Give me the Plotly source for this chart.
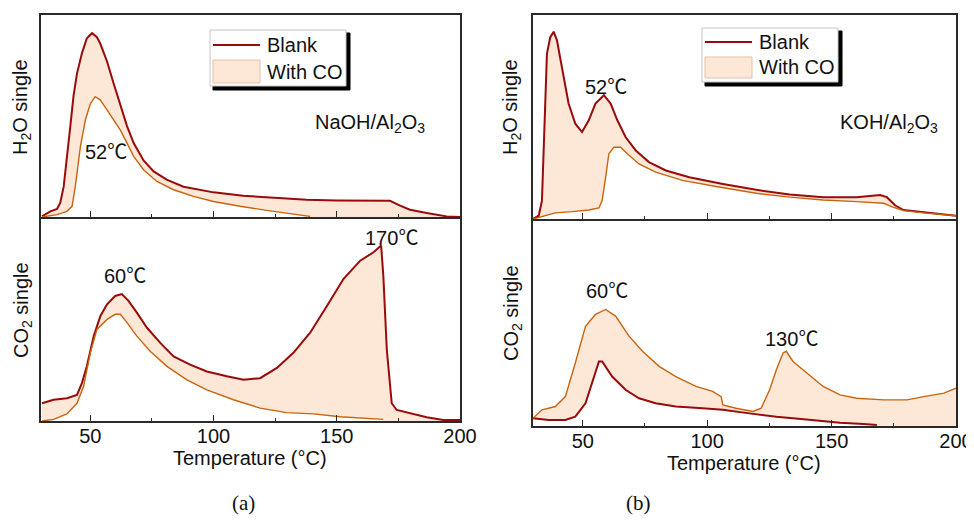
import plotly.graph_objects as go

# ---------------- data (signal in arbitrary units, 0-100 of each panel) ----------------
# Panel (a) NaOH/Al2O3, H2O signal
a_h2o_blank_T = [30.4, 33.8, 36.5, 37.8, 39.2, 40.5, 41.9, 43.2, 44.6, 46.6, 48.6, 50.7, 52.7, 54.0,
                 56.8, 59.5, 62.2, 64.9, 67.6, 71.6, 75.7, 81.0, 87.8, 100.0, 112.0, 125.7, 137.8,
                 150.0, 162.0, 171.6, 175.7, 179.7, 186.5, 194.6, 200.0]
a_h2o_blank_y = [0.3, 2.8, 4.0, 7.0, 15.0, 28.0, 45.0, 60.0, 71.0, 81.0, 88.5, 91.0, 89.0, 86.0,
                 77.0, 66.0, 55.0, 45.0, 36.6, 28.0, 22.6, 18.5, 15.0, 12.2, 10.5, 9.4, 8.6,
                 8.2, 7.9, 8.0, 5.6, 3.6, 2.0, 0.3, 0.0]
a_h2o_co_T = [30.4, 36.5, 40.5, 42.6, 43.9, 46.0, 48.0, 50.0, 52.0, 54.0, 56.8, 59.5, 62.2, 64.9,
              67.6, 71.6, 77.0, 83.8, 91.9, 100.0, 110.8, 121.6, 132.4, 139.2]
a_h2o_co_y = [0.0, 1.2, 2.8, 5.3, 15.0, 35.0, 48.0, 56.0, 59.6, 58.0, 53.0, 48.0, 43.0, 36.6,
              30.0, 23.4, 17.6, 13.5, 10.2, 7.7, 5.3, 3.3, 1.6, 0.3]

# Panel (a) NaOH/Al2O3, CO2 signal
a_co2_blank_T = [30.4, 35.1, 40.5, 44.6, 46.6, 48.6, 51.4, 54.1, 56.8, 60.1, 62.8, 65.5, 68.9, 73.0,
                 78.4, 83.8, 90.5, 97.3, 105.4, 112.2, 118.9, 125.7, 132.4, 139.2, 146.0, 152.7,
                 159.5, 164.9, 168.0, 168.9, 170.3, 172.3, 174.3, 179.7, 186.5, 193.2, 200.0]
a_co2_blank_y = [8.7, 10.4, 11.2, 12.8, 18.6, 26.8, 41.6, 51.5, 57.2, 61.3, 62.2, 58.9, 53.1, 45.7,
                 38.3, 31.7, 27.6, 24.3, 21.9, 20.2, 21.0, 26.0, 33.4, 43.3, 56.4, 69.6,
                 78.6, 82.7, 86.0, 71.0, 35.0, 8.7, 5.4, 3.8, 1.8, 0.5, 0.5]
a_co2_co_T = [30.4, 35.1, 40.5, 44.6, 47.3, 50.0, 52.7, 56.8, 60.1, 62.2, 64.9, 68.9, 74.3, 81.1,
              89.2, 97.3, 108.1, 118.9, 129.7, 140.5, 151.4, 162.2, 168.9]
a_co2_co_y = [0.0, 0.8, 3.5, 8.7, 17.0, 33.4, 44.9, 49.8, 52.3, 52.3, 48.2, 41.6, 34.2, 26.8,
              20.2, 15.3, 10.4, 6.3, 4.1, 3.5, 2.1, 1.3, 0.8]

# Panel (b) KOH/Al2O3, H2O signal
b_h2o_blank_T = [30.0, 32.3, 33.6, 35.0, 35.6, 36.9, 38.3, 39.6, 41.7, 44.3, 47.0, 49.7, 52.4, 55.1,
                 58.5, 61.2, 63.9, 67.2, 71.3, 76.6, 83.4, 92.8, 106.3, 119.7, 133.2, 146.6,
                 160.1, 169.5, 172.2, 175.6, 178.9, 187.0, 193.7, 200.0]
b_h2o_blank_y = [0.0, 1.6, 9.0, 66.0, 81.0, 89.0, 91.8, 87.7, 74.6, 56.6, 46.7, 42.6, 48.4, 56.6,
                 60.7, 56.6, 48.4, 40.2, 33.6, 27.9, 23.8, 20.5, 17.2, 14.3, 12.0, 10.7,
                 10.7, 11.8, 10.7, 6.6, 4.4, 3.3, 2.1, 1.6]
b_h2o_co_T = [30.0, 35.0, 39.0, 45.7, 52.4, 56.5, 57.8, 59.2, 60.5, 62.5, 65.2, 67.9, 72.6, 79.3,
              90.1, 103.6, 119.7, 133.2, 146.6, 160.1, 170.9, 174.9, 178.9, 187.0, 200.0]
b_h2o_co_y = [0.0, 1.6, 3.0, 3.6, 4.4, 5.4, 9.0, 20.5, 32.0, 35.2, 35.2, 32.0, 27.0, 23.0,
              18.9, 15.9, 12.6, 10.7, 9.3, 8.5, 7.7, 5.7, 4.1, 3.0, 1.6]

# Panel (b) KOH/Al2O3, CO2 signal
b_co2_co_T = [30.0, 33.6, 39.0, 43.0, 47.0, 51.1, 55.1, 59.2, 63.2, 68.6, 74.0, 80.7, 87.4, 95.5,
              102.2, 105.6, 106.3, 111.6, 118.4, 121.7, 125.1, 127.8, 130.5, 131.8, 134.5, 139.9,
              146.6, 153.4, 160.1, 170.9, 180.3, 187.0, 195.1, 200.0]
b_co2_co_y = [3.7, 7.8, 9.4, 14.2, 30.4, 48.2, 53.9, 56.3, 53.1, 43.4, 36.1, 28.8, 23.9, 19.1,
              16.7, 14.2, 10.2, 8.6, 7.0, 8.6, 17.5, 27.2, 35.3, 36.1, 31.2, 25.6,
              19.1, 15.0, 13.4, 12.6, 12.6, 14.2, 15.9, 18.3]
b_co2_blank_T = [30.0, 36.3, 43.0, 47.0, 51.1, 53.8, 56.5, 57.8, 61.8, 67.2, 72.6, 79.3, 87.4, 98.2,
                 106.3, 117.0, 127.8, 139.9, 153.4, 162.8, 168.2]
b_co2_blank_y = [3.7, 2.9, 2.9, 4.5, 11.0, 20.7, 31.2, 31.2, 23.9, 17.5, 13.4, 11.0, 9.4, 8.6,
                 7.8, 6.1, 4.5, 3.2, 1.6, 1.0, 0.5]

series_names = ["Blank", "With CO"]
x_ticks = [50, 100, 150, 200]
x_title = "Temperature (°C)"
y_titles = ["H<sub>2</sub>O single", "CO<sub>2</sub> single"]
panel_labels = ["(a)", "(b)"]

# ---------------- styles ----------------
C_BLANK = "#990a0a"
C_CO = "#c8640f"
C_FILL = "rgb(253,232,215)"
C_FILL_EDGE = "#e3c2a8"
FONT = "Arial, Liberation Sans, DejaVu Sans, sans-serif"
TXT = "#111111"

# the page body adds an 8 px margin; the figure is sized so that it fills the window
OFF = 8
W, H = 974 - OFF, 531 - OFF

fig = go.Figure()


def fill_between(T1, y1, T2, y2):
    # polygon: first curve forward, down to the axis, second curve backward
    xs = list(T1) + [T1[-1], T2[-1]] + list(T2[::-1])
    ys = list(y1) + [0, 0] + list(y2[::-1])
    return xs, ys


panels = [
    ("x2", "y2", a_h2o_blank_T, a_h2o_blank_y, a_h2o_co_T, a_h2o_co_y),
    ("x", "y", a_co2_blank_T, a_co2_blank_y, a_co2_co_T, a_co2_co_y),
    ("x4", "y4", b_h2o_blank_T, b_h2o_blank_y, b_h2o_co_T, b_h2o_co_y),
    ("x3", "y3", b_co2_blank_T, b_co2_blank_y, b_co2_co_T, b_co2_co_y),
]

for xa, ya, bT, by, cT, cy in panels:
    fx, fy = fill_between(bT, by, cT, cy)
    fig.add_trace(go.Scatter(
        x=fx, y=fy, xaxis=xa, yaxis=ya, mode="lines", fill="toself",
        fillcolor=C_FILL, line=dict(width=0), name=series_names[1],
        showlegend=False, hoverinfo="skip"))
    fig.add_trace(go.Scatter(
        x=bT, y=by, xaxis=xa, yaxis=ya, mode="lines",
        line=dict(color=C_BLANK, width=2), name=series_names[0], showlegend=False))
    fig.add_trace(go.Scatter(
        x=cT, y=cy, xaxis=xa, yaxis=ya, mode="lines",
        line=dict(color=C_CO, width=1.4), name=series_names[1], showlegend=False))


def px(x):
    return (x - OFF) / W


def py(y):
    return 1 - (y - OFF) / H


xa_dom = [px(41), px(460)]
xb_dom = [px(533), px(956)]
ya_top = [py(217), py(15)]
ya_bot = [py(421), py(217)]
yb_top = [py(219), py(15)]
yb_bot = [py(426), py(219)]

AX = "#2a2a2a"


def xaxis(dom, anchor, labels):
    d = dict(domain=dom, anchor=anchor, range=[30, 200], tickvals=x_ticks,
             showline=True, mirror=(False if labels else True), linecolor=AX, linewidth=1.5,
             showgrid=False, zeroline=False, automargin=False,
             ticks="inside", ticklen=6, tickwidth=1.3, tickcolor=AX,
             minor=dict(dtick=25, tick0=0, ticks="inside", ticklen=3, tickwidth=1, tickcolor=AX),
             showticklabels=labels, tickfont=dict(family=FONT, size=20, color=TXT))
    if labels:
        d.update(ticklabelstandoff=-4)
    return d


def yaxis(dom, anchor):
    return dict(domain=dom, anchor=anchor, range=[0, 100], showticklabels=False, ticks="",
                showline=True, mirror=True, linecolor=AX, linewidth=1.5,
                showgrid=False, zeroline=False, automargin=False)


fig.update_layout(
    width=W, height=H, margin=dict(l=0, r=0, t=0, b=0),
    paper_bgcolor="white", plot_bgcolor="white", showlegend=False,
    xaxis=xaxis(xa_dom, "y", True),
    yaxis=yaxis(ya_bot, "x"),
    xaxis2=xaxis(xa_dom, "y2", False),
    yaxis2=yaxis(ya_top, "x2"),
    xaxis3=xaxis(xb_dom, "y3", True),
    yaxis3=yaxis(yb_bot, "x3"),
    xaxis4=xaxis(xb_dom, "y4", False),
    yaxis4=yaxis(yb_top, "x4"),
)

title_font = dict(family=FONT, size=20, color=TXT)
# axis titles
for cx, cy in [(250, 458), (744, 463)]:
    fig.add_annotation(xref="paper", yref="paper", x=px(cx), y=py(cy), text=x_title,
                       showarrow=False, font=title_font, xanchor="center", yanchor="middle",
                       borderpad=0)
for cx, cy, t in [(22, 107, y_titles[0]), (22, 310, y_titles[1]),
                  (512, 107, y_titles[0]), (512, 313, y_titles[1])]:
    fig.add_annotation(xref="paper", yref="paper", x=px(cx), y=py(cy), text=t, textangle=-90,
                       showarrow=False, font=title_font, xanchor="center", yanchor="middle")

# legends (box with drop shadow, line sample, fill sample, labels)
legend_boxes = [
    # box left, top, right, bottom, line y, fill top, fill bottom, text x, text1 y, text2 y
    (210, 30, 346, 86, 45, 60, 83, 265, 45, 72),
    (702, 28, 838, 82, 42, 57, 78, 757, 42, 67),
]
leg_font = dict(family=FONT, size=20, color=TXT)
for L, T, R, B, ly, ft, fb, tx, t1, t2 in legend_boxes:
    fig.add_shape(type="rect", xref="paper", yref="paper", layer="above",
                  x0=px(L + 3), x1=px(R + 4), y0=py(B + 4), y1=py(T + 3),
                  fillcolor="#000000", line=dict(color="#000000", width=1))
    fig.add_shape(type="rect", xref="paper", yref="paper", layer="above",
                  x0=px(L), x1=px(R), y0=py(B), y1=py(T),
                  fillcolor="white", line=dict(color="#c4c4c4", width=1))
    fig.add_shape(type="line", xref="paper", yref="paper", layer="above",
                  x0=px(L + 3), x1=px(L + 50), y0=py(ly), y1=py(ly),
                  line=dict(color=C_BLANK, width=2))
    fig.add_shape(type="rect", xref="paper", yref="paper", layer="above",
                  x0=px(L + 3), x1=px(L + 50), y0=py(fb), y1=py(ft),
                  fillcolor=C_FILL, line=dict(color=C_FILL_EDGE, width=1))
    fig.add_annotation(xref="paper", yref="paper", x=px(tx), y=py(t1), xanchor="left",
                       yanchor="middle", text=series_names[0], showarrow=False, font=leg_font)
    fig.add_annotation(xref="paper", yref="paper", x=px(tx), y=py(t2), xanchor="left",
                       yanchor="middle", text=series_names[1], showarrow=False, font=leg_font)

DEG = "<span style='font-family:Noto Sans CJK SC'>℃</span>"
ann_font = dict(family=FONT, size=20, color=TXT)
annotations = [
    ("x2", "y2", 56.5, 33, "52" + DEG),
    ("x2", "y2", 163.5, 46.5, "NaOH/Al<sub>2</sub>O<sub>3</sub>"),
    ("x", "y", 64.2, 72, "60" + DEG),
    ("x", "y", 172.1, 90.6, "170" + DEG),
    ("x4", "y4", 59.2, 65.6, "52" + DEG),
    ("x4", "y4", 172.9, 46.7, "KOH/Al<sub>2</sub>O<sub>3</sub>"),
    ("x3", "y3", 59.8, 66, "60" + DEG),
    ("x3", "y3", 133.8, 42.6, "130" + DEG),
]
for xr, yr, xv, yv, t in annotations:
    fig.add_annotation(xref=xr, yref=yr, x=xv, y=yv, text=t, showarrow=False,
                       font=ann_font)

for xp, t in zip([230, 653], panel_labels):
    fig.add_annotation(xref="paper", yref="paper", x=px(xp), y=py(517), text=t,
                       showarrow=False,
                       font=dict(family="Liberation Serif, Times New Roman, serif", size=21, color=TXT))

fig.write_html("out.html")
